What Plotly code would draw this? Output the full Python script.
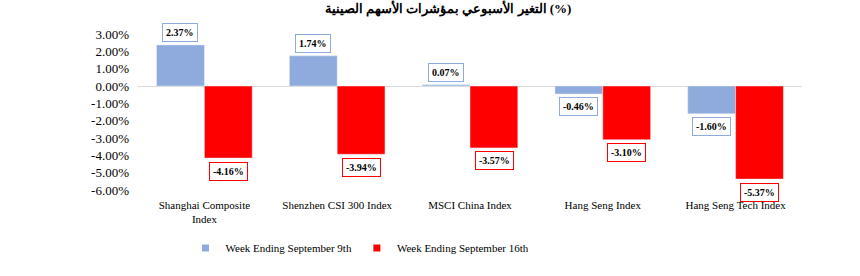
import plotly.graph_objects as go

categories = ["Shanghai Composite<br>Index", "Shenzhen CSI 300 Index", "MSCI China Index",
              "Hang Seng Index", "Hang Seng Tech Index"]
week_sep9 = [2.37, 1.74, 0.07, -0.46, -1.60]
week_sep16 = [-4.16, -3.94, -3.57, -3.10, -5.37]
series_names = ["Week Ending September 9th", "Week Ending September 16th"]
tick_vals = [3, 2, 1, 0, -1, -2, -3, -4, -5, -6]
tick_text = ["3.00%", "2.00%", "1.00%", "0.00%", "-1.00%", "-2.00%", "-3.00%", "-4.00%", "-5.00%", "-6.00%"]
title_text = "التغير الأسبوعي بمؤشرات الأسهم الصينية (%)"

BLUE = "#8FAADC"
RED = "#FF0000"
FONT = "Times New Roman, Liberation Serif, DejaVu Serif, serif"

fig = go.Figure()
fig.add_bar(x=categories, y=week_sep9, name=series_names[0], marker_color=BLUE, showlegend=False)
fig.add_bar(x=categories, y=week_sep16, name=series_names[1], marker_color=RED, showlegend=False)
# legend entries with small square symbols
for name, col in zip(series_names, [BLUE, RED]):
    fig.add_scatter(x=[None], y=[None], mode="markers", name=name,
                    marker=dict(symbol="square", size=7, color=col))

annotations = []
for vals, col, shift in [(week_sep9, BLUE, -24), (week_sep16, RED, 24)]:
    for c, v in zip(categories, vals):
        annotations.append(dict(
            x=c, y=v, xref="x", yref="y", text=f"<b>{v:.2f}%</b>", showarrow=False,
            xshift=shift, yshift=12 if v >= 0 else -13,
            font=dict(family=FONT, size=10, color="#000000"),
            bgcolor="white", bordercolor=col, borderwidth=1, borderpad=3,
        ))

fig.update_layout(
    width=860, height=276,
    margin=dict(l=138, r=58, t=34, b=86),
    paper_bgcolor="white", plot_bgcolor="white",
    barmode="group", bargap=0.28, bargroupgap=0,
    font=dict(family=FONT, size=12, color="#000000"),
    title=dict(text=f"<b>{title_text}</b>", x=448 / 860, xanchor="center", y=1 - 8 / 276,
               yanchor="middle", font=dict(family=FONT, size=13, color="#000000")),
    showlegend=True,
    legend=dict(orientation="h", x=(360 - 138) / 664, xanchor="center", y=(190 - 248) / 156,
                yanchor="middle", font=dict(family=FONT, size=11), itemwidth=30,
                tracegroupgap=0, traceorder="normal"),
    annotations=annotations,
)
fig.update_yaxes(range=[-6.0, 3.0], tickvals=tick_vals, ticktext=tick_text, showgrid=False,
                 zeroline=True, zerolinecolor="#D9D9D9", zerolinewidth=1,
                 showline=False, ticks="", ticklabelstandoff=8, tickfont=dict(family=FONT, size=13))
fig.update_xaxes(showgrid=False, showline=False, ticks="", ticklabelstandoff=7,
                 tickfont=dict(family=FONT, size=11))

fig.write_html("out.html")
